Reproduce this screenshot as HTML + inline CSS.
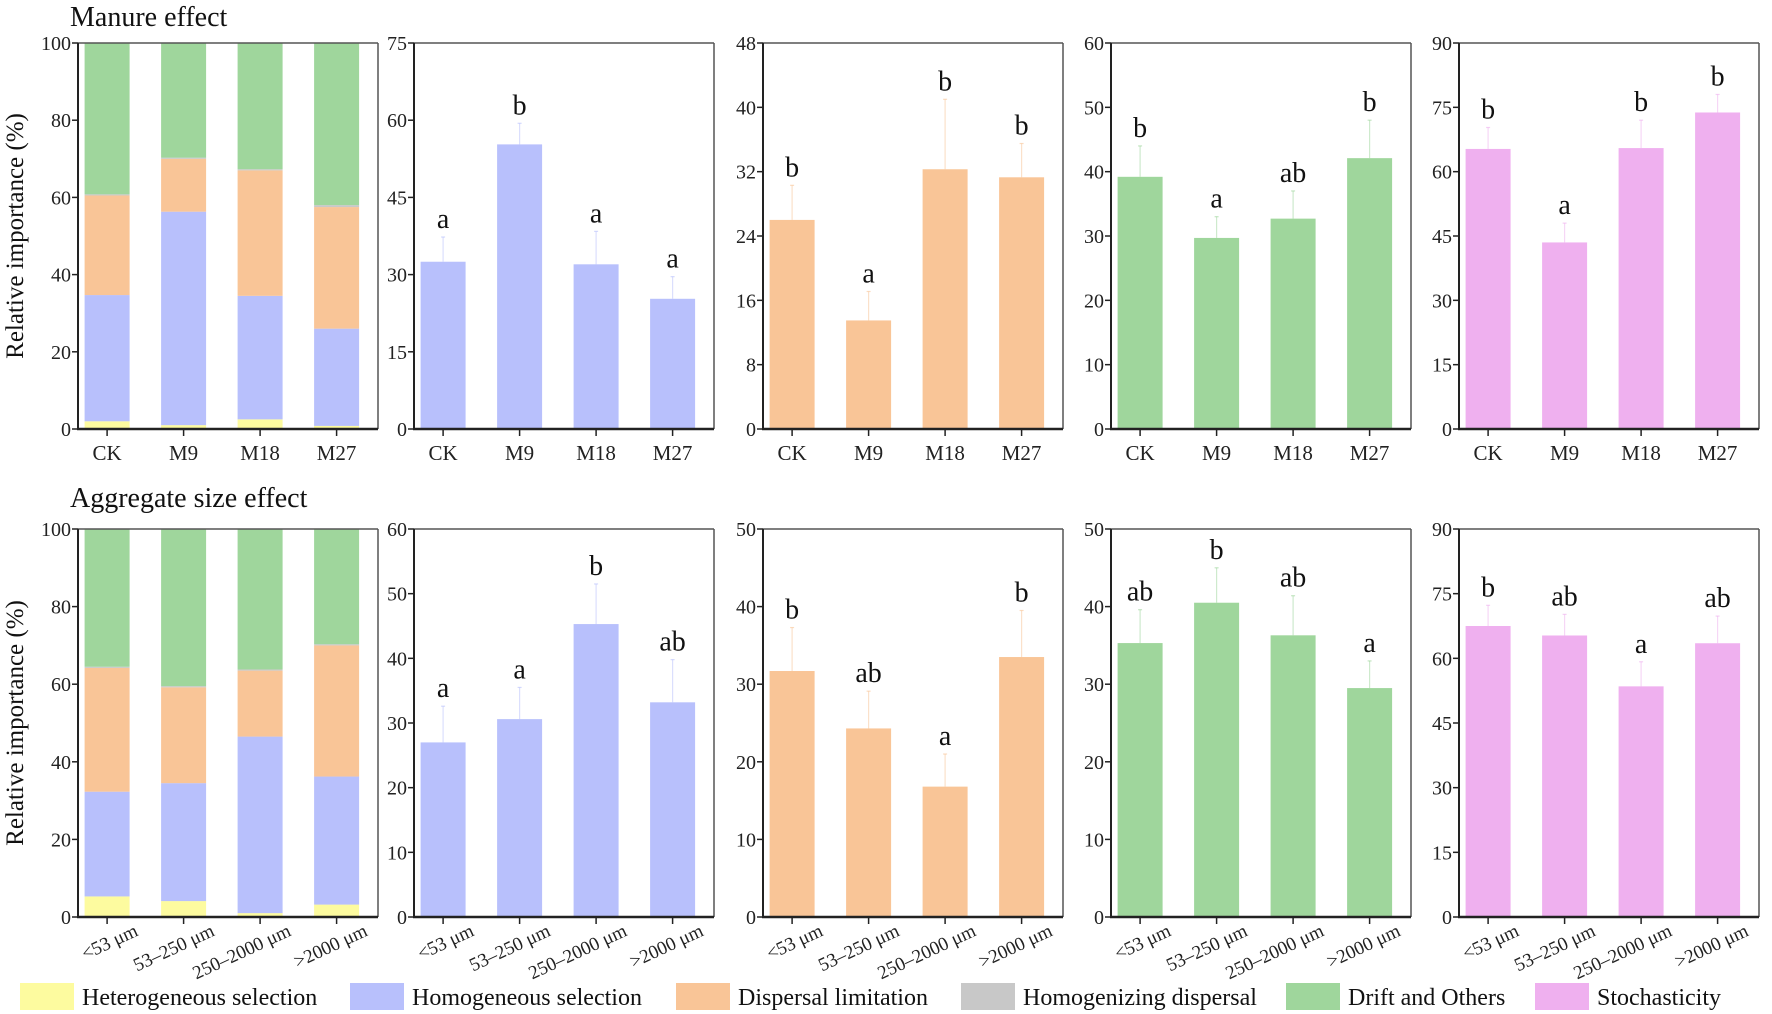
<!DOCTYPE html>
<html><head><meta charset="utf-8"><style>
body{margin:0;background:#fff;}
svg{display:block;}
svg text{font-family:"Liberation Serif","Times New Roman",serif;}
</style></head><body>
<svg id="fig" width="1772" height="1014" viewBox="0 0 1772 1014"></svg>
<script>
const manureCats = ["CK","M9","M18","M27"];
const sizeCats = ["<53 μm","53–250 μm","250–2000 μm",">2000 μm"];
// stacked: heterogeneous, homogeneous, dispersal, homogenizing, drift
const manureHet = [2.0,1.0,2.5,0.8];
const manureHom = [32.7,55.3,32.0,25.2];
const manureDisp = [25.8,13.7,32.5,31.5];
const manureHomog = [0.3,0.3,0.3,0.5];
const sizeHet = [5.3,4.1,1.0,3.2];
const sizeHom = [27.0,30.4,45.5,33.0];
const sizeDisp = [31.9,24.7,17.0,33.8];
const sizeHomog = [0.3,0.3,0.3,0.3];
// row 1 single panels
const mHomVals=[32.5,55.3,32.0,25.3], mHomErr=[37.3,59.4,38.4,29.6], mHomLet=["a","b","a","a"];
const mDispVals=[26.0,13.5,32.3,31.3], mDispErr=[30.3,17.1,41.0,35.5], mDispLet=["b","a","b","b"];
const mDriftVals=[39.2,29.7,32.7,42.1], mDriftErr=[44.0,33.0,37.0,48.0], mDriftLet=["b","a","ab","b"];
const mStoVals=[65.3,43.5,65.5,73.8], mStoErr=[70.3,48.0,72.0,78.0], mStoLet=["b","a","b","b"];
// row 2 single panels
const sHomVals=[27.0,30.6,45.3,33.2], sHomErr=[32.6,35.5,51.5,39.8], sHomLet=["a","a","b","ab"];
const sDispVals=[31.7,24.3,16.8,33.5], sDispErr=[37.3,29.1,21.0,39.5], sDispLet=["b","ab","a","b"];
const sDriftVals=[35.3,40.5,36.3,29.5], sDriftErr=[39.6,45.0,41.4,33.0], sDriftLet=["ab","b","ab","a"];
const sStoVals=[67.5,65.3,53.5,63.5], sStoErr=[72.3,70.2,59.2,69.8], sStoLet=["b","ab","a","ab"];
const ticks100=[0,20,40,60,80,100], ticks75=[0,15,30,45,60,75], ticks48=[0,8,16,24,32,40,48], ticks60=[0,10,20,30,40,50,60], ticks90=[0,15,30,45,60,75,90], ticks50=[0,10,20,30,40,50];
const legendLabels=["Heterogeneous selection","Homogeneous selection","Dispersal limitation","Homogenizing dispersal","Drift and Others","Stochasticity"];

const C={het:"#fdfb9f",hom:"#b8c0fc",disp:"#f9c597",homog:"#c8c8c8",drift:"#9fd69c",sto:"#efb0ef"};
const NS="http://www.w3.org/2000/svg";
const svg=document.getElementById("fig");
function el(tag,attrs,parent,text){const e=document.createElementNS(NS,tag);for(const k in attrs)e.setAttribute(k,attrs[k]);if(tag==="text")e.setAttribute("style","font-family:'Liberation Serif',serif");if(text!==undefined)e.textContent=text;(parent||svg).appendChild(e);return e;}

const lefts=[78,414,763,1111,1459], W=300;
const rows=[{top:43,bot:429},{top:529,bot:917}];

function panel(pi,ri,ticks,cats,name,drawFn){
  const L=lefts[pi],R=L+W,T=rows[ri].top,B=rows[ri].bot,max=ticks[ticks.length-1];
  const g=el("g",{});
  
  
  const y=v=>B-(v/max)*(B-T);
  const xc=i=>L+W*(0.097+0.255*i);
  const bw=W*0.15;
  drawFn(g,y,xc,bw);
  el("line",{x1:L,y1:T,x2:R,y2:T,stroke:"#555","stroke-width":1.5},g);
  el("line",{x1:R,y1:T,x2:R,y2:B,stroke:"#555","stroke-width":1.5},g);
  el("line",{x1:L,y1:T,x2:L,y2:B+1,stroke:"#222","stroke-width":2},g);
  el("line",{x1:L-1,y1:B,x2:R,y2:B,stroke:"#222","stroke-width":2.5},g);
  ticks.forEach(t=>{
    el("line",{x1:L-6,y1:y(t),x2:L,y2:y(t),stroke:"#222","stroke-width":1.5},g);
    const tl=el("text",{x:L-7,y:y(t)+7,"text-anchor":"end","font-size":20,fill:"#222"},g,String(t));
    
    
  });
  cats.forEach((c,i)=>{
    el("line",{x1:xc(i),y1:B,x2:xc(i),y2:B+7,stroke:"#222","stroke-width":1.5},g);
    let t;
    if(ri===0){t=el("text",{x:xc(i),y:B+31,"text-anchor":"middle","font-size":21,fill:"#222"},g,c);}
    else{const ax=xc(i)+32, ay=B+18; t=el("text",{x:ax,y:ay,"text-anchor":"end","font-size":19,fill:"#222",transform:`rotate(-25 ${ax} ${ay})`},g,c);}
    
    
  });
}
function stacked(het,hom,disp,homog){
  return (g,y,xc,bw)=>{
    het.forEach((_,i)=>{
      const parts=[[het[i],C.het],[hom[i],C.hom],[disp[i],C.disp],[homog[i],C.homog]];
      let s=0;
      parts.forEach(([v,col])=>{const r=el("rect",{x:xc(i)-bw/2,y:y(s+v),width:bw,height:y(s)-y(s+v),fill:col},g);s+=v;});
      const r=el("rect",{x:xc(i)-bw/2,y:y(100),width:bw,height:y(s)-y(100),fill:C.drift},g);
      
      
    });
  };
}
function bars(vals,errs,lets,col){
  return (g,y,xc,bw)=>{
    vals.forEach((v,i)=>{
      const r=el("rect",{x:xc(i)-bw/2,y:y(v),width:bw,height:y(0)-y(v),fill:col},g);
      
      
      el("line",{x1:xc(i),y1:y(v),x2:xc(i),y2:y(errs[i]),stroke:col,"stroke-width":1.2,opacity:0.5},g);
      el("line",{x1:xc(i)-2,y1:y(errs[i]),x2:xc(i)+2,y2:y(errs[i]),stroke:col,"stroke-width":1.2,opacity:0.6},g);
      const t=el("text",{x:xc(i),y:y(errs[i])-9,"text-anchor":"middle","font-size":28,fill:"#111"},g,lets[i]);
      
      
    });
  };
}
panel(0,0,ticks100,manureCats,"manure-stacked-chart",stacked(manureHet,manureHom,manureDisp,manureHomog));
panel(1,0,ticks75,manureCats,"manure-homogeneous-chart",bars(mHomVals,mHomErr,mHomLet,C.hom));
panel(2,0,ticks48,manureCats,"manure-dispersal-chart",bars(mDispVals,mDispErr,mDispLet,C.disp));
panel(3,0,ticks60,manureCats,"manure-drift-chart",bars(mDriftVals,mDriftErr,mDriftLet,C.drift));
panel(4,0,ticks90,manureCats,"manure-stochasticity-chart",bars(mStoVals,mStoErr,mStoLet,C.sto));
panel(0,1,ticks100,sizeCats,"size-stacked-chart",stacked(sizeHet,sizeHom,sizeDisp,sizeHomog));
panel(1,1,ticks60,sizeCats,"size-homogeneous-chart",bars(sHomVals,sHomErr,sHomLet,C.hom));
panel(2,1,ticks50,sizeCats,"size-dispersal-chart",bars(sDispVals,sDispErr,sDispLet,C.disp));
panel(3,1,ticks50,sizeCats,"size-drift-chart",bars(sDriftVals,sDriftErr,sDriftLet,C.drift));
panel(4,1,ticks90,sizeCats,"size-stochasticity-chart",bars(sStoVals,sStoErr,sStoLet,C.sto));

let t=el("text",{x:70,y:26,"font-size":28,fill:"#111"},svg,"Manure effect");


t=el("text",{x:70,y:507,"font-size":28,fill:"#111"},svg,"Aggregate size effect");


[236,723].forEach((cy,i)=>{
  const a=el("text",{x:23,y:cy,"text-anchor":"middle","font-size":25,fill:"#111",transform:`rotate(-90 23 ${cy})`},svg,"Relative importance (%)");
  
  
});
const legX=[20,350,676,961,1286,1535], legCols=[C.het,C.hom,C.disp,C.homog,C.drift,C.sto];
legendLabels.forEach((lab,i)=>{
  const g=el("g",{});
  
  
  el("rect",{x:legX[i],y:983,width:54,height:27,fill:legCols[i]},g);
  el("text",{x:legX[i]+62,y:1005,"font-size":24,fill:"#111"},g,lab);
});
</script>
</body></html>
